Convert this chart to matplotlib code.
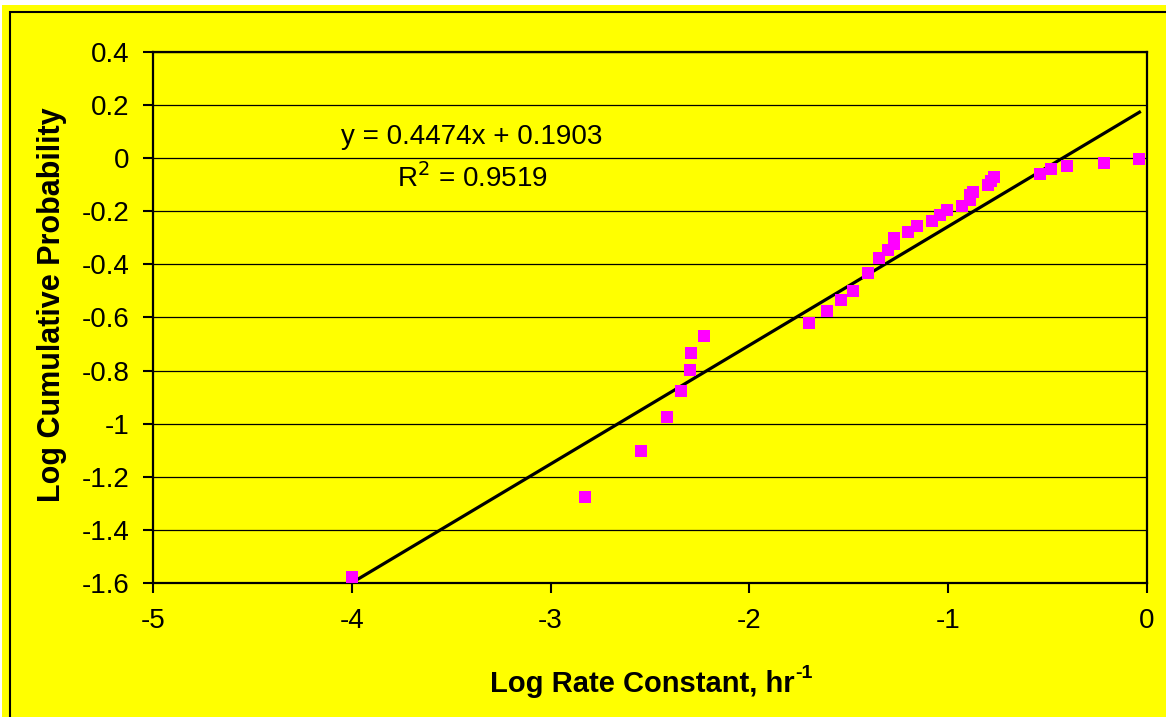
import numpy as np
import matplotlib
matplotlib.use("Agg")
import matplotlib.pyplot as plt
from matplotlib import ticker as mticker
from matplotlib.patches import Rectangle
from matplotlib.transforms import offset_copy

plt.rcParams['font.family'] = ['Liberation Sans', 'DejaVu Sans']
plt.rcParams['axes.unicode_minus'] = False

# log rate constant (hr^-1) vs log cumulative probability
log_rate = [-4.000, -2.826, -2.544, -2.413, -2.343, -2.297, -2.292, -2.227,
            -1.699, -1.608, -1.538, -1.477, -1.402, -1.346, -1.301, -1.271,
            -1.271, -1.200, -1.155, -1.080, -1.039, -1.004, -0.933, -0.888,
            -0.888, -0.873, -0.798, -0.783, -0.768, -0.536, -0.481, -0.400,
            -0.214, -0.038]
log_prob = [-1.577, -1.276, -1.103, -0.975, -0.877, -0.798, -0.734, -0.670,
            -0.621, -0.576, -0.534, -0.500, -0.432, -0.376, -0.346, -0.323,
            -0.301, -0.278, -0.255, -0.237, -0.214, -0.195, -0.180, -0.157,
            -0.139, -0.127, -0.101, -0.086, -0.071, -0.060, -0.041, -0.029,
            -0.018, -0.003]

# linear trendline
slope = 0.4474
intercept = 0.1903
r_squared = 0.9519

x_ticks = [-5, -4, -3, -2, -1, 0]
y_ticks = [0.4, 0.2, 0.0, -0.2, -0.4, -0.6, -0.8, -1.0, -1.2, -1.4, -1.6]

yellow = '#FFFF00'
W, H = 1166, 717

fig = plt.figure(figsize=(W / 100, H / 100), dpi=100, facecolor='white')
# chart area background and border (behind the axes)
fig.patches.append(Rectangle((2 / W, 0), 1, 1 - 5 / H, transform=fig.transFigure,
                             facecolor=yellow, edgecolor='none', zorder=-2))
fig.patches.append(Rectangle((10 / W, -0.1), 1.2, 1 - 12 / H + 0.1, transform=fig.transFigure,
                             facecolor='none', edgecolor='black', linewidth=1.5, zorder=-1))

ax = fig.add_axes([153 / W, 1 - 583 / H, (1147 - 153) / W, (583 - 52) / H])
ax.set_facecolor(yellow)

ax.set_xlim(-5, 0)
ax.set_ylim(-1.6, 0.4)
ax.set_xticks(x_ticks)
ax.set_yticks(y_ticks)
ax.yaxis.set_major_formatter(mticker.FuncFormatter(lambda v, _: f"{round(v, 1) + 0.0:g}"))
ax.xaxis.set_major_formatter(mticker.FuncFormatter(lambda v, _: f"{round(v) + 0:g}"))
ax.tick_params(axis='both', direction='out', length=7, width=1.5, colors='black', labelsize=20)
ax.tick_params(axis='y', pad=10)
ax.tick_params(axis='x', pad=11)

ax.yaxis.grid(True, color='black', linewidth=0.9)
ax.set_axisbelow(True)
for side in ax.spines.values():
    side.set_linewidth(1.6)
    side.set_color('black')

xs = np.array([min(log_rate), max(log_rate)])
ax.plot(xs, slope * xs + intercept, color='black', linewidth=2.3, zorder=3)
ax.plot(log_rate, log_prob, linestyle='none', marker='s', markersize=8.6,
        color='#FF00FF', markeredgewidth=0, zorder=4, clip_on=False)

ax.text(0.321, 0.840, f"y = {slope}x + {intercept}", transform=ax.transAxes,
        ha='center', va='center', fontsize=20)
ax.text(0.321, 0.763, f"R$^2$ = {r_squared}", transform=ax.transAxes,
        ha='center', va='center', fontsize=20)

# x label: main text plus a "-1" superscript drawn as its own text
xlab_y = -0.206
xlab = ax.text(0.492, xlab_y, "Log Rate Constant, hr", transform=ax.transAxes,
               ha='center', va='baseline', fontsize=21, fontweight='bold')
fig.canvas.draw()
bb = xlab.get_window_extent().transformed(ax.transAxes.inverted())
ax.text(bb.x1, xlab_y, "-1", transform=offset_copy(ax.transAxes, fig=fig, x=1, y=10, units='points'),
        ha='left', va='baseline', fontsize=14, fontweight='bold')

ax.set_ylabel("Log Cumulative Probability", fontsize=22, fontweight='bold', va='center')
ax.yaxis.set_label_coords(-0.1016, 0.524)

fig.savefig("out.png", dpi=100, facecolor=fig.get_facecolor())
